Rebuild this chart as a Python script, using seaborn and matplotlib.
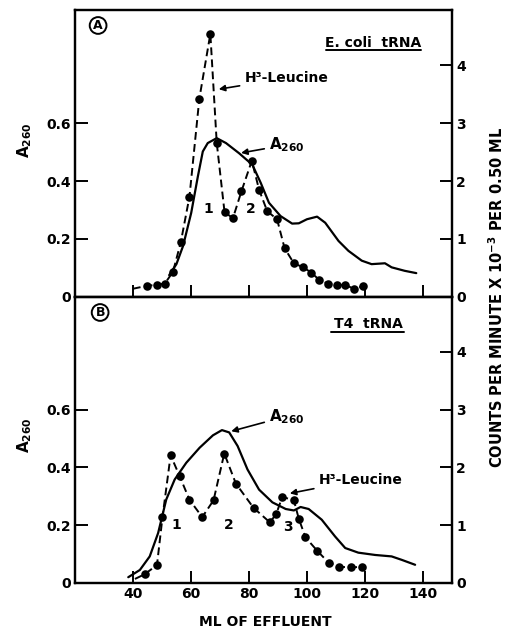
import matplotlib
matplotlib.use("Agg")
import matplotlib.pyplot as plt
import seaborn as sns
import pandas as pd
import numpy as np

# ---------------- data ----------------
# Panel A (E. coli tRNA)
a_leu_ml = [40.0, 44.7, 48.3, 51.0, 53.8, 56.5, 59.5, 62.9, 66.7, 68.9, 71.6, 74.5, 77.4, 81.0,
            83.5, 86.3, 89.7, 92.3, 95.5, 98.7, 101.5, 104.3, 107.2, 110.4, 113.2, 116.1, 119.2]
a_leu_cpm = [0.14, 0.19, 0.21, 0.23, 0.43, 0.94, 1.73, 3.42, 4.54, 2.66, 1.46, 1.36, 1.82, 2.35,
             1.85, 1.48, 1.34, 0.84, 0.58, 0.51, 0.42, 0.29, 0.23, 0.20, 0.21, 0.14, 0.18]
a_abs_ml = [52.5, 55.0, 57.3, 60.1, 62.4, 64.1, 65.8, 68.9, 72.1, 76.6, 81.2, 84.1, 86.9, 90.9,
            94.9, 97.2, 100.0, 103.5, 106.3, 110.9, 114.3, 118.9, 122.3, 126.9, 129.2, 133.7, 137.7]
a_abs_a260 = [0.075, 0.113, 0.176, 0.290, 0.416, 0.502, 0.531, 0.548, 0.531, 0.496, 0.456, 0.393,
              0.325, 0.279, 0.253, 0.254, 0.268, 0.277, 0.256, 0.193, 0.159, 0.125, 0.113, 0.116,
              0.102, 0.090, 0.082]

# Panel B (T4 tRNA)
b_leu_ml = [40.7, 44.0, 48.3, 50.2, 53.0, 56.1, 59.5, 63.9, 67.8, 71.5, 75.5, 81.6, 87.2, 89.4,
            91.5, 95.5, 97.2, 99.5, 103.5, 107.5, 111.2, 115.2, 119.1]
b_leu_cpm = [0.07, 0.15, 0.31, 1.14, 2.21, 1.85, 1.44, 1.14, 1.43, 2.24, 1.72, 1.30, 1.05, 1.19,
             1.49, 1.43, 1.11, 0.79, 0.56, 0.35, 0.28, 0.27, 0.28]
b_abs_ml = [38.4, 42.4, 45.8, 48.7, 51.5, 54.4, 58.4, 63.0, 67.6, 70.7, 73.2, 76.1, 79.5, 83.5,
            88.1, 92.7, 95.5, 97.8, 100.6, 105.1, 109.7, 113.2, 117.7, 123.5, 129.2, 132.7, 137.3]
b_abs_a260 = [0.020, 0.045, 0.092, 0.173, 0.289, 0.358, 0.416, 0.468, 0.511, 0.529, 0.521, 0.474,
              0.393, 0.323, 0.279, 0.256, 0.251, 0.263, 0.256, 0.219, 0.161, 0.121, 0.105, 0.097,
              0.092, 0.080, 0.063]

x_ticks = [40, 60, 80, 100, 120, 140]
left_ticks = [0, 0.2, 0.4, 0.6]
left_ticklabels = ["0", "0.2", "0.4", "0.6"]
right_ticks = [0, 1, 2, 3, 4]
right_ticklabels = ["0", "1", "2", "3", "4"]

# ---------------- style ----------------
sns.set_style("ticks")
plt.rcParams["font.family"] = ["DejaVu Sans"]
plt.rcParams["font.weight"] = "bold"
plt.rcParams["mathtext.default"] = "bf"
for k in ["text.color", "axes.labelcolor", "xtick.color", "ytick.color", "axes.edgecolor"]:
    plt.rcParams[k] = "black"
FS = 10

fig = plt.figure(figsize=(5.13, 6.33), dpi=100)
ax_top = fig.add_axes([0.146, 0.531, 0.735, 0.453])
ax_bot = fig.add_axes([0.146, 0.079, 0.735, 0.452])


def draw_panel(ax, leu_ml, leu_cpm, abs_ml, abs_val, show_xlabels):
    axr = ax.twinx()
    df_abs = pd.DataFrame({"ml": abs_ml, "a": abs_val})
    df_leu = pd.DataFrame({"ml": leu_ml, "c": leu_cpm})
    sns.lineplot(data=df_abs, x="ml", y="a", ax=ax, color="black", lw=1.6, sort=False,
                 estimator=None)
    sns.lineplot(data=df_leu, x="ml", y="c", ax=axr, color="black", lw=1.4, sort=False,
                 estimator=None)
    for ln in axr.get_lines():
        ln.set_dashes([4, 2.2])
    sns.scatterplot(data=df_leu.iloc[1:], x="ml", y="c", ax=axr, color="black", s=38,
                    edgecolor="black", linewidth=0, zorder=5)
    ax.set_xlim(20, 150)
    ax.set_ylim(0, 0.99)
    axr.set_ylim(0, 4.95)
    ax.set_xticks(x_ticks)
    if show_xlabels:
        ax.set_xticklabels([str(t) for t in x_ticks], fontsize=FS, fontweight="bold")
    else:
        ax.set_xticklabels([])
    ax.set_yticks(left_ticks)
    ax.set_yticklabels(left_ticklabels, fontsize=FS, fontweight="bold")
    axr.set_yticks(right_ticks)
    axr.set_yticklabels(right_ticklabels, fontsize=FS, fontweight="bold")
    for a in (ax, axr):
        a.tick_params(direction="in", length=9, width=1.4, pad=3, colors="black")
        for s in a.spines.values():
            s.set_linewidth(1.6)
            s.set_visible(True)
            s.set_color("black")
    ax.set_xlabel("")
    ax.set_ylabel("")
    axr.set_ylabel("")
    return axr


axr_top = draw_panel(ax_top, a_leu_ml, a_leu_cpm, a_abs_ml, a_abs_a260, False)
axr_bot = draw_panel(ax_bot, b_leu_ml, b_leu_cpm, b_abs_ml, b_abs_a260, True)

arrow = dict(arrowstyle="-|>", color="black", lw=1.2, mutation_scale=9, shrinkA=1, shrinkB=0)

# panel A annotations
ax_top.text(28, 0.937, "A", fontsize=9, fontweight="bold", ha="center", va="center",
            bbox=dict(boxstyle="circle,pad=0.15", fc="white", ec="black", lw=1.4))
ax_top.text(139.3, 0.878, "E. coli  tRNA", fontsize=FS, fontweight="bold", ha="right",
            va="center")
ax_top.plot([106.5, 139.5], [0.852, 0.852], color="black", lw=1.4)
ax_top.annotate("H³-Leucine", xy=(69.6, 0.717), xytext=(78.4, 0.755), fontsize=FS,
                fontweight="bold", ha="left", va="center", arrowprops=arrow)
ax_top.annotate("A$_{260}$", xy=(77.3, 0.497), xytext=(86.9, 0.525), fontsize=FS + 1,
                ha="left", va="center", arrowprops=arrow)
ax_top.text(66.0, 0.302, "1", fontsize=FS, fontweight="bold", ha="center", va="center")
ax_top.text(80.8, 0.302, "2", fontsize=FS, fontweight="bold", ha="center", va="center")

# panel B annotations
ax_bot.text(28.7, 0.936, "B", fontsize=9, fontweight="bold", ha="center", va="center",
            bbox=dict(boxstyle="circle,pad=0.15", fc="white", ec="black", lw=1.4))
ax_bot.text(133.2, 0.897, "T4  tRNA", fontsize=FS, fontweight="bold", ha="right", va="center")
ax_bot.plot([108.3, 133.5], [0.870, 0.870], color="black", lw=1.4)
ax_bot.annotate("A$_{260}$", xy=(73.9, 0.525), xytext=(86.9, 0.577), fontsize=FS + 1,
                ha="left", va="center", arrowprops=arrow)
ax_bot.annotate("H³-Leucine", xy=(94.1, 0.31), xytext=(104.0, 0.358), fontsize=FS,
                fontweight="bold", ha="left", va="center", arrowprops=arrow)
ax_bot.text(55.1, 0.202, "1", fontsize=FS, fontweight="bold", ha="center", va="center")
ax_bot.text(72.9, 0.202, "2", fontsize=FS, fontweight="bold", ha="center", va="center")
ax_bot.text(93.4, 0.195, "3", fontsize=FS, fontweight="bold", ha="center", va="center")

# axis labels
fig.text(25 / 513, 1 - 140 / 633, "A$_{260}$", rotation=90, fontsize=FS + 1, ha="center",
         va="center")
fig.text(25 / 513, 1 - 435 / 633, "A$_{260}$", rotation=90, fontsize=FS + 1, ha="center",
         va="center")
fig.text(265 / 513, 1 - 622 / 633, "ML OF EFFLUENT", fontsize=FS, fontweight="bold",
         ha="center", va="center")
fig.text(497 / 513, 1 - 298 / 633, "COUNTS PER MINUTE X 10$^{-3}$ PER 0.50 ML", rotation=90,
         fontsize=10.5, fontweight="bold", ha="center", va="center")

fig.savefig("out.png", dpi=100)
